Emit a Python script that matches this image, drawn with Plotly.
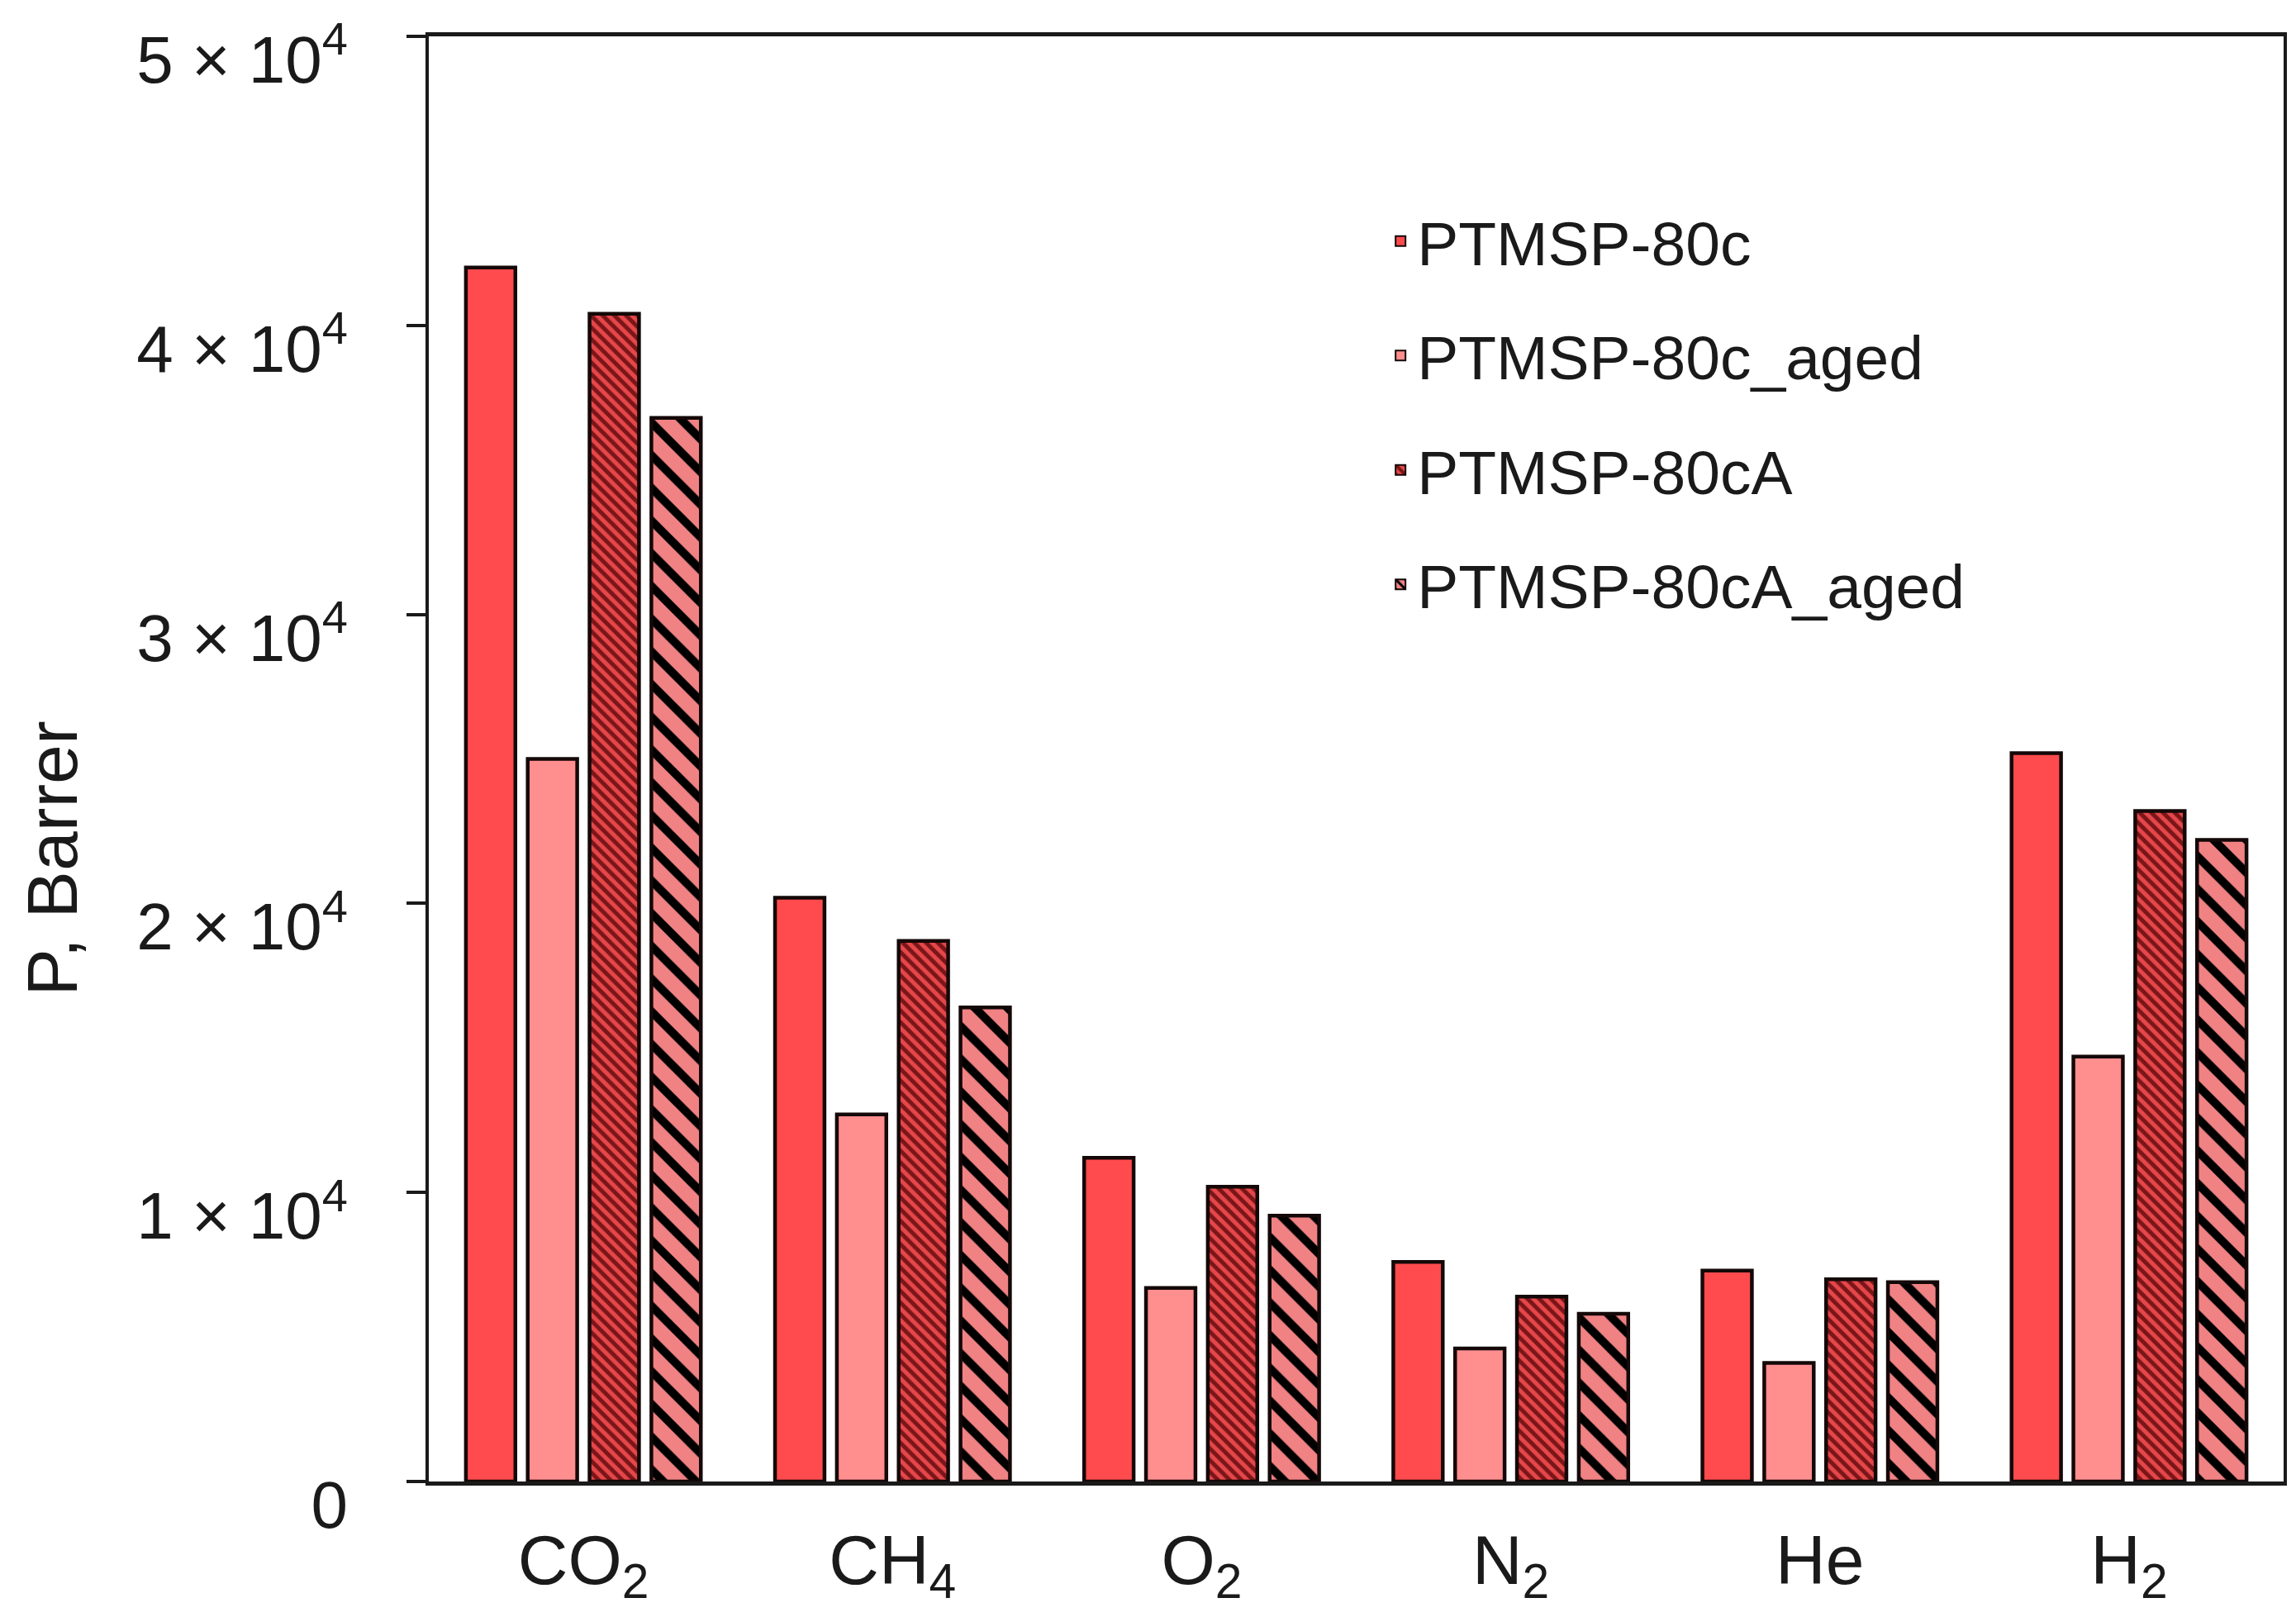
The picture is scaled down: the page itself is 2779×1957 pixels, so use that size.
import plotly.graph_objects as go

gases = ["CO<sub>2</sub>", "CH<sub>4</sub>", "O<sub>2</sub>", "N<sub>2</sub>", "He", "H<sub>2</sub>"]
ptmsp_80c = [42000, 20200, 11200, 7600, 7300, 25200]
ptmsp_80c_aged = [25000, 12700, 6700, 4600, 4100, 14700]
ptmsp_80cA = [40400, 18700, 10200, 6400, 7000, 23200]
ptmsp_80cA_aged = [36800, 16400, 9200, 5800, 6900, 22200]

ytick_vals = [0, 10000, 20000, 30000, 40000, 50000]
ytick_text = ["0", "1 × 10<sup>4</sup>", "2 × 10<sup>4</sup>", "3 × 10<sup>4</sup>",
              "4 × 10<sup>4</sup>", "5 × 10<sup>4</sup>"]

FONT = "Liberation Sans, Arial, sans-serif"
x_idx = list(range(len(gases)))

fig = go.Figure()
series = [
    ("PTMSP-80c", ptmsp_80c, "#FF4B4D", None),
    ("PTMSP-80c_aged", ptmsp_80c_aged, "#FF8E8F", None),
    ("PTMSP-80cA", ptmsp_80cA, "#E5474A",
     dict(shape="\\", size=10, solidity=0.5, fgcolor="#7A1518", bgcolor="#E5474A", fgopacity=1)),
    ("PTMSP-80cA_aged", ptmsp_80cA_aged, "#F08284",
     dict(shape="\\", size=28, solidity=0.36, fgcolor="#000000", bgcolor="#F08284", fgopacity=1)),
]
for i, (name, vals, col, pat) in enumerate(series):
    marker = dict(color=col, line=dict(color="#140808", width=4.5))
    if pat is not None:
        marker["pattern"] = pat
    fig.add_trace(go.Bar(x=x_idx, y=vals, name=name, marker=marker,
                         legendgroup=f"g{i}"))

fig.update_layout(
    width=2779, height=1957,
    margin=dict(l=511, r=23, t=36, b=172),
    paper_bgcolor="white", plot_bgcolor="white",
    barmode="group", bargap=0.2, bargroupgap=0.2,
    font=dict(family=FONT, color="#1a1a1a", size=80),
    showlegend=True,
    legend=dict(x=0.515, y=0.89, xanchor="left", yanchor="top",
                font=dict(size=75, family=FONT, color="#1a1a1a"),
                bgcolor="rgba(0,0,0,0)", traceorder="grouped",
                tracegroupgap=38, itemsizing="constant"),
)
fig.update_xaxes(
    range=[-0.5, 5.5], tickvals=x_idx, ticktext=gases,
    showline=True, linecolor="#1a1a1a", linewidth=5, mirror=True,
    ticks="", showgrid=False, zeroline=False, automargin=False,
    tickfont=dict(size=84, family=FONT), ticklabelstandoff=18,
)
fig.update_yaxes(
    range=[0, 50000], tickvals=ytick_vals, ticktext=ytick_text,
    showline=True, linecolor="#1a1a1a", linewidth=4, mirror=True,
    ticks="outside", ticklen=23, tickwidth=4, tickcolor="#1a1a1a",
    showgrid=False, zeroline=False, ticklabeloverflow="allow", automargin=False,
    tickfont=dict(size=80, family=FONT), ticklabelstandoff=55, ticklabelshift=28,
)
fig.add_annotation(
    text="P, Barrer", textangle=-90, xref="paper", yref="paper",
    x=-0.203, y=0.431, xanchor="center", yanchor="middle", showarrow=False,
    font=dict(size=86, family=FONT, color="#1a1a1a"),
)

fig.write_html("out.html")
